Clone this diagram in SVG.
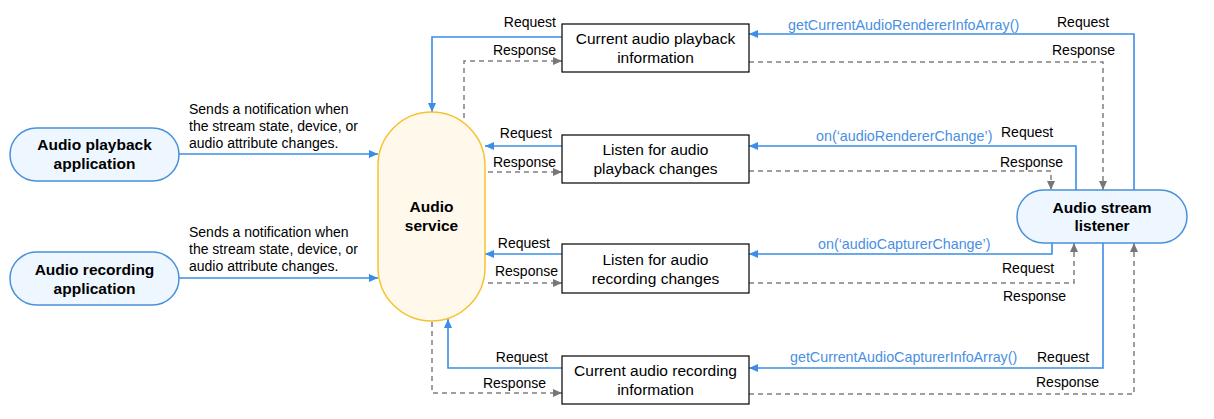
<svg xmlns="http://www.w3.org/2000/svg" width="1214" height="419" viewBox="0 0 1214 419">
<style>
text{font-family:"Liberation Sans",Arial,sans-serif;fill:#000}
.lbl{font-size:14px}
.api{font-size:14.3px;fill:#4a8fe2}
.box{font-size:15.5px}
.bold{font-size:15.5px;font-weight:bold}
.app{fill:#eef7ff;stroke:#4a90d9;stroke-width:1.5}
.svc{fill:#fff9ec;stroke:#f7c230;stroke-width:1.5}
.rect{fill:#fff;stroke:#000;stroke-width:1.2}
.req{fill:none;stroke:#3a8ee6;stroke-width:1.6}
.rsp{fill:none;stroke:#808080;stroke-width:1.5;stroke-dasharray:5 4}
</style>
<defs>
<marker id="ab" markerUnits="userSpaceOnUse" markerWidth="9" markerHeight="8" refX="9" refY="4" orient="auto"><path d="M0,0 L9,4 L0,8 z" fill="#3a8ee6"/></marker>
<marker id="ag" markerUnits="userSpaceOnUse" markerWidth="9" markerHeight="8" refX="9" refY="4" orient="auto"><path d="M0,0 L9,4 L0,8 z" fill="#777"/></marker>
</defs>
<rect width="1214" height="419" fill="#fff"/>
<g id="connectors">
<path class="req" d="M179,154 H378" marker-end="url(#ab)"/>
<path class="req" d="M179,278 H378" marker-end="url(#ab)"/>
<path class="req" d="M562,37 H432 V112" marker-end="url(#ab)"/>
<path class="rsp" d="M464,118 V61 H562" marker-end="url(#ag)"/>
<path class="req" d="M562,146 H485" marker-end="url(#ab)"/>
<path class="rsp" d="M488,172 H562" marker-end="url(#ag)"/>
<path class="req" d="M562,254 H485" marker-end="url(#ab)"/>
<path class="rsp" d="M488,283 H562" marker-end="url(#ag)"/>
<path class="req" d="M562,368 H448 V319" marker-end="url(#ab)"/>
<path class="rsp" d="M432,322 V393 H562" marker-end="url(#ag)"/>
<path class="req" d="M1134,190 V34 H749" marker-end="url(#ab)"/>
<path class="rsp" d="M749,62 H1103 V190" marker-end="url(#ag)"/>
<path class="req" d="M1076,190 V146 H749" marker-end="url(#ab)"/>
<path class="rsp" d="M749,171 H1051 V190" marker-end="url(#ag)"/>
<path class="req" d="M1052,243 V254 H749" marker-end="url(#ab)"/>
<path class="rsp" d="M749,283 H1074 V243" marker-end="url(#ag)"/>
<path class="req" d="M1103,243 V368 H749" marker-end="url(#ab)"/>
<path class="rsp" d="M749,394 H1134 V243" marker-end="url(#ag)"/>
<text class="lbl" x="189" y="114">Sends a notification when</text>
<text class="lbl" x="189" y="131">the stream state, device, or</text>
<text class="lbl" x="189" y="148">audio attribute changes.</text>
<text class="lbl" x="189" y="237">Sends a notification when</text>
<text class="lbl" x="189" y="254">the stream state, device, or</text>
<text class="lbl" x="189" y="271">audio attribute changes.</text>
<g text-anchor="end">
<text class="lbl" x="556" y="27">Request</text>
<text class="lbl" x="556" y="55">Response</text>
<text class="lbl" x="552" y="138">Request</text>
<text class="lbl" x="556" y="167">Response</text>
<text class="lbl" x="550" y="248">Request</text>
<text class="lbl" x="558" y="276">Response</text>
<text class="lbl" x="548" y="362">Request</text>
<text class="lbl" x="546" y="388">Response</text>
</g>
<text class="api" x="788" y="30">getCurrentAudioRendererInfoArray()</text>
<text class="lbl" x="1057" y="27">Request</text>
<text class="lbl" x="1052" y="55">Response</text>
<text class="api" x="816" y="141">on(‘audioRendererChange’)</text>
<text class="lbl" x="1001" y="137">Request</text>
<text class="lbl" x="1000" y="167">Response</text>
<text class="api" x="818" y="249">on(‘audioCapturerChange’)</text>
<text class="lbl" x="1002" y="273">Request</text>
<text class="lbl" x="1003" y="301">Response</text>
<text class="api" x="790" y="362">getCurrentAudioCapturerInfoArray()</text>
<text class="lbl" x="1037" y="362">Request</text>
<text class="lbl" x="1036" y="387">Response</text>
</g>
<g id="audio-playback-app">
<rect class="app" x="10" y="128" width="169" height="53" rx="26.5"/>
<text class="bold" x="94.5" y="150" text-anchor="middle">Audio playback</text>
<text class="bold" x="94.5" y="169" text-anchor="middle">application</text>
</g>
<g id="audio-recording-app">
<rect class="app" x="10" y="252" width="169" height="53" rx="26.5"/>
<text class="bold" x="94.5" y="275" text-anchor="middle">Audio recording</text>
<text class="bold" x="94.5" y="294" text-anchor="middle">application</text>
</g>
<g id="audio-service">
<rect class="svc" x="378" y="112" width="107" height="209" rx="53.5"/>
<text class="bold" x="431.5" y="212" text-anchor="middle">Audio</text>
<text class="bold" x="431.5" y="231" text-anchor="middle">service</text>
</g>
<g id="current-playback-info">
<rect class="rect" x="562" y="24" width="187" height="48"/>
<text class="box" x="655.5" y="44" text-anchor="middle">Current audio playback</text>
<text class="box" x="655.5" y="63" text-anchor="middle">information</text>
</g>
<g id="listen-playback">
<rect class="rect" x="562" y="135" width="187" height="48"/>
<text class="box" x="655.5" y="155" text-anchor="middle">Listen for audio</text>
<text class="box" x="655.5" y="174" text-anchor="middle">playback changes</text>
</g>
<g id="listen-recording">
<rect class="rect" x="562" y="244" width="187" height="49"/>
<text class="box" x="655.5" y="265" text-anchor="middle">Listen for audio</text>
<text class="box" x="655.5" y="284" text-anchor="middle">recording changes</text>
</g>
<g id="current-recording-info">
<rect class="rect" x="562" y="356" width="187" height="48"/>
<text class="box" x="655.5" y="376" text-anchor="middle">Current audio recording</text>
<text class="box" x="655.5" y="395" text-anchor="middle">information</text>
</g>
<g id="audio-stream-listener">
<rect class="app" x="1017" y="190" width="170" height="53" rx="26.5"/>
<text class="bold" x="1102" y="213" text-anchor="middle">Audio stream</text>
<text class="bold" x="1102" y="231" text-anchor="middle">listener</text>
</g>
</svg>
